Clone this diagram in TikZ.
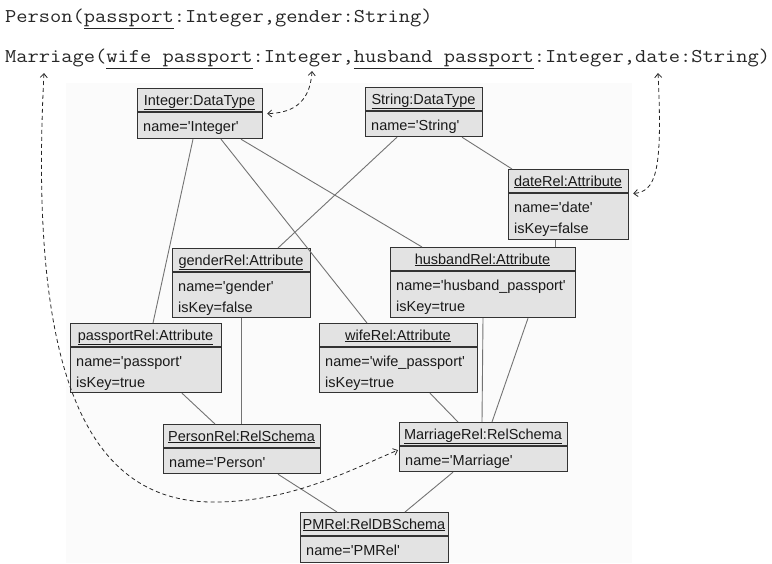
\documentclass[tikz,border=0pt]{standalone}
\usepackage{fontspec}
\setmainfont{Liberation Sans}
\newfontfamily\codefont[FakeStretch=1.12]{Latin Modern Mono}
\usetikzlibrary{arrows.meta,calc}

\newcommand\sq{\textquotesingle}

\tikzset{
  objbox/.style={draw=black!80, line width=1.2pt, fill=black!11, inner sep=0pt, anchor=north west},
  sepline/.style={draw=black!80, line width=1.2pt},
  link/.style={draw=black!55, line width=0.9pt},
  trace/.style={draw=black!85, line width=0.8pt, dash pattern=on 4pt off 3pt,
    {Straight Barb[length=4pt,width=7pt]}-{Straight Barb[length=4pt,width=7pt]}},
  hdr/.style={anchor=base, inner sep=0pt, text=black!90, font=\fontsize{14.5}{16}\selectfont},
  attr/.style={anchor=base west, inner sep=0pt, text=black!90, font=\fontsize{14.5}{16}\selectfont},
  code/.style={anchor=base west, inner sep=0pt, text=black!85, font=\codefont\fontsize{19.5}{21}\selectfont},
}

% object box: name, x1, y1, x2, y2, separator y, header, first line, second line
\newcommand\objectbox[9]{%
  \node[objbox, minimum width={(#4-#2)*1pt}, minimum height={(#5-#3)*1pt}] (#1) at (#2,#3) {};
  \draw[sepline] (#2,#6) -- (#4,#6);
  \node[hdr] (#1-h) at ({(#2+#4)/2},{#3+17}) {\underline{#7}};
  \node[attr] (#1-a) at ({#2+6},{#6+19}) {#8};
  \node[attr] (#1-b) at ({#2+6},{#6+40}) {#9};
}

\begin{document}
\begin{tikzpicture}[x=1pt,y=-1pt]
  \useasboundingbox[fill=white] (0,0) rectangle (772,563);
  \fill[black!1.5] (66,83) rectangle (632,563);

  % relational schema text
  \node[code] (person-line) at (5,22) {Person(\underline{passport}:Integer,gender:String)};
  \node[code] (marriage-line) at (5,62) {Marriage(\underline{wife passport}:Integer,\underline{husband passport}:Integer,date:String)};
  \coordinate (m-ref) at (44,73);
  \coordinate (i-ref) at (312,71);
  \coordinate (d-ref) at (658,73);

  % object boxes
  \objectbox{int}{137}{88}{262}{138}{112}{Integer:DataType}{name=\sq Integer\sq}{}
  \objectbox{str}{365}{87}{482}{136}{111}{String:DataType}{name=\sq String\sq}{}
  \objectbox{date}{508}{169}{628}{239}{193}{dateRel:Attribute}{name=\sq date\sq}{isKey=false}
  \objectbox{gender}{172}{248}{310}{317}{272}{genderRel:Attribute}{name=\sq gender\sq}{isKey=false}
  \objectbox{husband}{390}{247}{575}{317}{271}{husbandRel:Attribute}{name=\sq husband\_passport\sq}{isKey=true}
  \objectbox{passport}{70}{323}{221}{392}{347}{passportRel:Attribute}{name=\sq passport\sq}{isKey=true}
  \objectbox{wife}{319}{323}{477}{392}{347}{wifeRel:Attribute}{name=\sq wife\_passport\sq}{isKey=true}
  \objectbox{personrel}{163}{424}{320}{473}{448}{PersonRel:RelSchema}{name=\sq Person\sq}{}
  \objectbox{marriagerel}{399}{422}{567}{471}{446}{MarriageRel:RelSchema}{name=\sq Marriage\sq}{}
  \objectbox{pm}{300}{512}{448}{562}{536}{PMRel:RelDBSchema}{name=\sq PMRel\sq}{}

  % links between objects
  \draw[link] ([xshift=56pt]int.south west) -- ([xshift=83pt]passport.north west);
  \draw[link] ([xshift=84pt]int.south west) -- ([xshift=48pt]wife.north west);
  \draw[link] ([xshift=104pt]int.south west) -- ([xshift=32pt]husband.north west);
  \draw[link] ([xshift=32pt]str.south west) -- ([xshift=106pt]gender.north west);
  \draw[link] ([xshift=97pt]str.south west) -- ([xshift=4pt]date.north west);
  \draw[link] ([xshift=47pt]date.south west) -- ([xshift=165pt]husband.north west);
  \draw[link] ([xshift=69pt]gender.south west) -- ([xshift=78pt]personrel.north west);
  \draw[link] ([xshift=112pt]passport.south west) -- ([xshift=52pt]personrel.north west);
  \draw[link] ([xshift=111pt]wife.south west) -- ([xshift=59pt]marriagerel.north west);
  \draw[link] ([xshift=93pt]husband.south west) -- ([xshift=83pt]marriagerel.north west);
  \draw[link] ([xshift=138pt]husband.south west) -- ([xshift=93pt]marriagerel.north west);
  \draw[link] ([xshift=115pt]personrel.south west) -- ([xshift=37pt]pm.north west);
  \draw[link] ([xshift=54pt]marriagerel.south west) -- ([xshift=105pt]pm.north west);

  % traces from schema text to objects
  \draw[trace] (m-ref) .. controls (28,380) and (90,500) .. (210,502)
               .. controls (290,503) and (350,470) .. ([xshift=-1pt,yshift=-3pt]marriagerel.west);
  \draw[trace] (i-ref) .. controls (310,105) and (290,113) .. ([xshift=4pt]int.east);
  \draw[trace] (d-ref) .. controls (663,175) and (655,191) .. ([xshift=4pt,yshift=11pt]date.east);
\end{tikzpicture}
\end{document}
